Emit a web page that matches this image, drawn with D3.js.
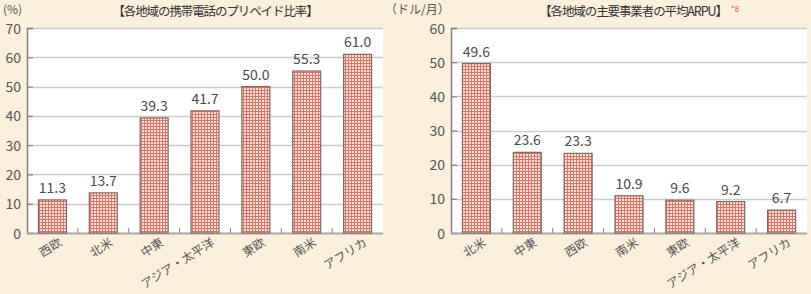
<!doctype html>
<html>
<head>
<meta charset="utf-8">
<style>
    body { margin: 0; background: #faf0dc; }
    text { font-family: "Noto Sans CJK JP", "Noto Sans", sans-serif; fill: #555; }
</style>
<script src="https://d3js.org/d3.v7.min.js"></script>
</head>
<body>
<div id="chart"></div>
<script>

    // data
    var prepaidRegions = ["西欧", "北米", "中東", "アジア・太平洋", "東欧", "南米", "アフリカ"];
    var prepaidValues = [11.3, 13.7, 39.3, 41.7, 50.0, 55.3, 61.0];
    var prepaidTicks = [0, 10, 20, 30, 40, 50, 60, 70];

    var arpuRegions = ["北米", "中東", "西欧", "南米", "東欧", "アジア・太平洋", "アフリカ"];
    var arpuValues = [49.6, 23.6, 23.3, 10.9, 9.6, 9.2, 6.7];
    var arpuTicks = [0, 10, 20, 30, 40, 50, 60];

    var svg = d3.select("#chart").append("svg")
        .attr("width", 811)
        .attr("height", 294);

    // checkered fill for the bars
    var pat = svg.append("defs").append("pattern")
        .attr("id", "check")
        .attr("patternUnits", "userSpaceOnUse")
        .attr("width", 3)
        .attr("height", 3);
    pat.append("rect").attr("width", 3).attr("height", 3).attr("fill", "#fbe2dc");
    pat.append("rect").attr("width", 1).attr("height", 3).attr("fill", "#dd7567");
    pat.append("rect").attr("width", 3).attr("height", 1).attr("fill", "#dd7567");

    function drawChart(opts) {
        var left = opts.left, right = opts.right, top = 28, bottom = 233;

        var x = d3.scaleBand()
            .domain(opts.regions)
            .range([left, right])
            .paddingInner(0.45)
            .paddingOuter(0.225);

        var y = d3.scaleLinear()
            .domain([0, opts.max])
            .range([bottom, top]);

        // plot background
        svg.append("rect")
            .attr("x", left)
            .attr("y", top)
            .attr("width", right - left)
            .attr("height", bottom - top)
            .attr("fill", "#fff");

        // grid lines
        svg.append("g")
            .selectAll("line")
            .data(opts.ticks.filter(d => d > 0))
            .join("line")
            .attr("x1", left)
            .attr("x2", right)
            .attr("y1", d => Math.round(y(d)) + 0.5)
            .attr("y2", d => Math.round(y(d)) + 0.5)
            .attr("stroke", "#cccccc")
            .attr("stroke-width", 1.5);

        // left axis, ticks drawn inward
        var yAxis = svg.append("g")
            .attr("transform", `translate(${left},0)`)
            .call(d3.axisLeft(y).tickValues(opts.ticks).tickSize(-6).tickPadding(6).tickFormat(d3.format("d")));
        yAxis.select(".domain").attr("stroke", "#8a8078").attr("stroke-width", 1.5);
        yAxis.selectAll(".tick line").attr("stroke", "#8a8078").attr("stroke-width", 1.2);
        yAxis.selectAll(".tick text")
            .style("font-size", "14px")
            .style("fill", "#555")
            .attr("dy", "0.36em");

        // bottom axis with small ticks between bands
        svg.append("line")
            .attr("x1", left)
            .attr("x2", right)
            .attr("y1", bottom + 0.5)
            .attr("y2", bottom + 0.5)
            .attr("stroke", "#a8a8a8")
            .attr("stroke-width", 2);

        var step = x.step();
        svg.append("g")
            .selectAll("line")
            .data(opts.regions.slice(1))
            .join("line")
            .attr("x1", d => x(d) - (step - x.bandwidth()) / 2)
            .attr("x2", d => x(d) - (step - x.bandwidth()) / 2)
            .attr("y1", bottom)
            .attr("y2", bottom - 5)
            .attr("stroke", "#8a8078");

        // bars
        svg.append("g")
            .selectAll("rect")
            .data(opts.values)
            .join("rect")
            .attr("x", (d, i) => x(opts.regions[i]))
            .attr("y", d => y(d))
            .attr("width", x.bandwidth())
            .attr("height", d => bottom - y(d))
            .attr("fill", "url(#check)")
            .attr("stroke", "#7d6a66")
            .attr("stroke-width", 1.2);

        // value labels
        svg.append("g")
            .selectAll("text")
            .data(opts.values)
            .join("text")
            .attr("x", (d, i) => x(opts.regions[i]) + x.bandwidth() / 2)
            .attr("y", d => y(d) - 7)
            .attr("text-anchor", "middle")
            .style("font-size", "14px")
            .style("fill", "#4a4a4a")
            .text(d => d.toFixed(1));

        // category labels, rotated
        svg.append("g")
            .selectAll("text")
            .data(opts.regions)
            .join("text")
            .attr("transform", d => `translate(${x(d) + x.bandwidth() / 2 + 5}, ${bottom + 3}) rotate(-32)`)
            .attr("text-anchor", "end")
            .attr("dy", "0.85em")
            .style("font-size", "12px")
            .style("fill", "#555")
            .text(d => d);

        // title
        svg.append("text")
            .attr("x", opts.titleX)
            .attr("y", 16)
            .attr("text-anchor", "middle")
            .style("font-size", "12.5px")
            .style("letter-spacing", "-1.1px")
            .style("fill", "#333")
            .text(opts.title);

        svg.append("text")
            .attr("x", opts.unitX)
            .attr("y", 14)
            .style("font-size", "12px")
            .style("fill", "#555")
            .text(opts.unit);
    }

    drawChart({
        regions: prepaidRegions, values: prepaidValues, ticks: prepaidTicks, max: 70,
        left: 27, right: 383, title: "【各地域の携帯電話のプリペイド比率】", titleX: 215,
        unit: "(%)", unitX: 3
    });

    drawChart({
        regions: arpuRegions, values: arpuValues, ticks: arpuTicks, max: 60,
        left: 451, right: 807, title: "【各地域の主要事業者の平均ARPU】", titleX: 633,
        unit: "（ドル/月）", unitX: 385
    });

    // footnote marker
    svg.append("text")
        .attr("x", 731)
        .attr("y", 12)
        .style("font-size", "8px")
        .style("fill", "#e0504a")
        .text("*8");

</script>
</body>
</html>
